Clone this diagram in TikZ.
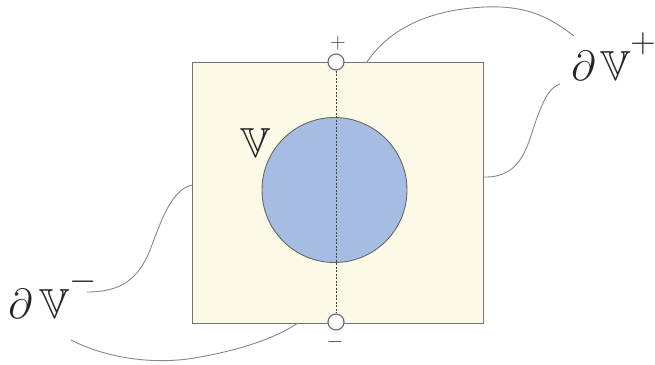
\documentclass[tikz,border=0pt]{standalone}
\usepackage{amssymb}
\definecolor{boxfill}{RGB}{252,250,230}
\definecolor{ballfill}{RGB}{166,188,227}
\definecolor{wire}{RGB}{135,135,135}
\begin{document}
\begin{tikzpicture}[x=1pt,y=-1pt,
  region/.style={draw=black!55, line width=0.9pt, fill=boxfill, minimum width=291pt, minimum height=261pt, inner sep=0pt, outer sep=0pt},
  ball/.style={circle, draw=black!60, line width=0.9pt, fill=ballfill, minimum size=145pt, inner sep=0pt},
  terminal/.style={circle, draw=black!55, line width=1.2pt, fill=white, minimum size=16pt, inner sep=0pt},
  wirec/.style={draw=wire, line width=0.9pt},
  axis/.style={draw=black!75, line width=0.6pt, dash pattern=on 2pt off 1.5pt},
  biglabel/.style={anchor=base west, inner sep=0pt, text=black!85, font=\Huge, scale=1.69},
  sign/.style={inner sep=0pt, text=black!75, font=\LARGE, scale=1.25}]
\useasboundingbox (0,0) rectangle (655,364);
\node[region] (box) at (337.5,192.5) {};
\node[ball] (ball) at (334.5,190) {};
\node[terminal] (tp) at (336,62) {};
\node[terminal] (tm) at (336,322) {};
\draw[axis] (tp.south) -- (tm.north);
\node[sign] (plus) at (338,43) {$+$};
\node[sign] (minus) at (335,342) {$-$};
\node[biglabel] (dvp) at (571,80) {$\partial\mkern2mu\mathbb{V}^{\raisebox{7.5pt}{$\scriptstyle +$}}$};
\node[biglabel] (dvm) at (8,318) {$\partial\,\mathbb{V}^{\raisebox{7.5pt}{$\scriptstyle -$}}$};
\node[biglabel] (vl) at (240,157) {$\mathbb{V}$};
% wire ends
\coordinate (a1) at (367,62);
\coordinate (a2) at (574,36);
\coordinate (b1) at (484,177);
\coordinate (b2) at (560,84);
\coordinate (c1) at (192,185);
\coordinate (c2) at (87,292);
\coordinate (d1) at (71,340);
\coordinate (d2) at (298,323);
\draw[wirec] (a1) .. controls (385,35) and (420,10) .. (485,7) .. controls (530,5) and (553,20) .. (a2);
\draw[wirec] (b1) .. controls (525,178) and (528,140) .. (538,115) .. controls (546,95) and (550,88) .. (b2);
\draw[wirec] (c1) .. controls (170,190) and (160,225) .. (150,250) .. controls (138,280) and (120,292) .. (c2);
\draw[wirec] (d1) .. controls (110,360) and (160,365) .. (200,357) .. controls (250,348) and (280,335) .. (d2);
\end{tikzpicture}
\end{document}
